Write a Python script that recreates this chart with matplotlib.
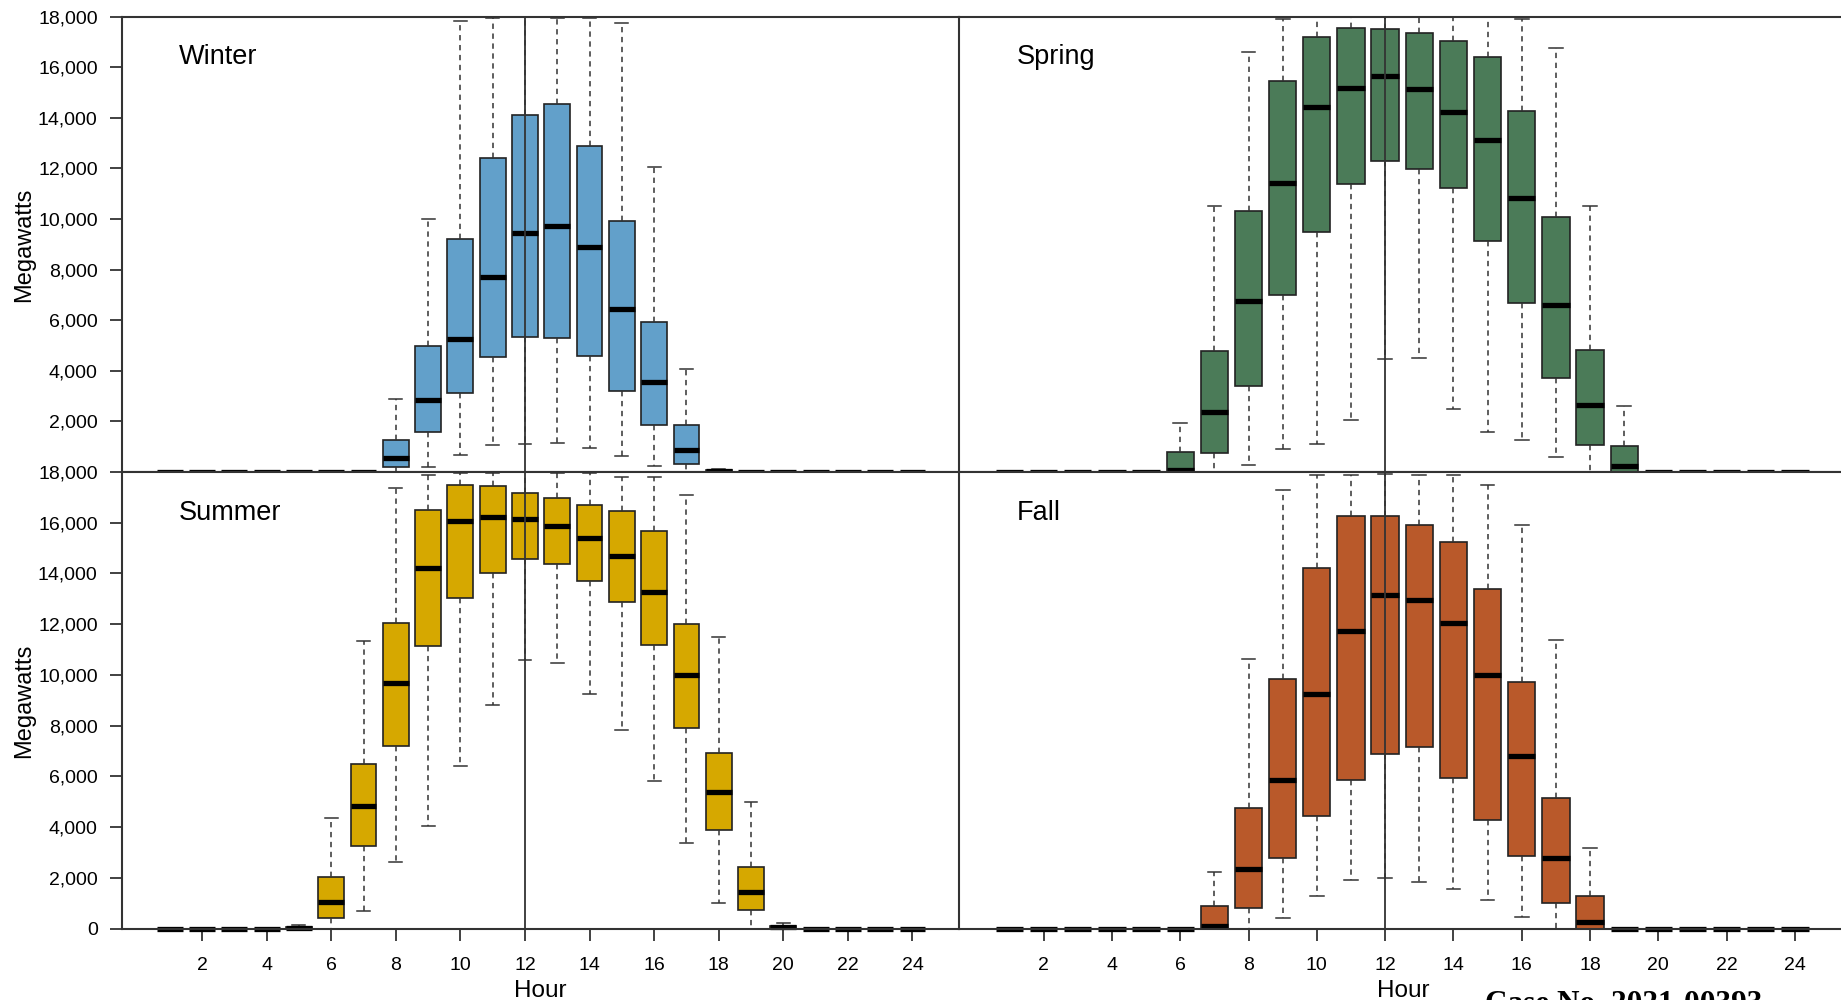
import matplotlib.pyplot as plt
from matplotlib.ticker import FuncFormatter

plt.rcParams['font.family'] = ['Liberation Sans', 'DejaVu Sans']

# hours of the day
hours = list(range(1, 25))

# hourly solar output, thousands of MW: q1, median, q3, whisker low, whisker high
winter_q1 = [0, 0, 0, 0, 0, 0, 0, 0.18, 1.60, 3.13, 4.54, 5.34, 5.29, 4.58, 3.20, 1.86, 0.32, 0, 0, 0, 0, 0, 0, 0]
winter_med = [0, 0, 0, 0, 0, 0, 0, 0.55, 2.83, 5.24, 7.72, 9.46, 9.74, 8.90, 6.45, 3.57, 0.88, 0.02, 0, 0, 0, 0, 0, 0]
winter_q3 = [0, 0, 0, 0, 0, 0, 0, 1.27, 4.97, 9.21, 12.43, 14.13, 14.53, 12.88, 9.93, 5.94, 1.86, 0.06, 0, 0, 0, 0, 0, 0]
winter_lo = [0, 0, 0, 0, 0, 0, 0, 0, 0.20, 0.66, 1.07, 1.12, 1.14, 0.96, 0.65, 0.23, 0, 0, 0, 0, 0, 0, 0, 0]
winter_hi = [0, 0, 0, 0, 0, 0, 0, 2.90, 10.0, 17.84, 17.95, 18.0, 17.95, 17.95, 17.76, 12.06, 4.08, 0.10, 0, 0, 0, 0, 0, 0]

spring_q1 = [0, 0, 0, 0, 0, 0, 0.76, 3.39, 7.01, 9.49, 11.38, 12.28, 11.97, 11.22, 9.12, 6.68, 3.70, 1.05, 0, 0, 0, 0, 0, 0]
spring_med = [0, 0, 0, 0, 0, 0.08, 2.37, 6.78, 11.41, 14.42, 15.20, 15.66, 15.13, 14.24, 13.12, 10.84, 6.59, 2.63, 0.24, 0, 0, 0, 0, 0]
spring_q3 = [0, 0, 0, 0, 0, 0.79, 4.80, 10.32, 15.47, 17.21, 17.54, 17.50, 17.34, 17.05, 16.42, 14.29, 10.10, 4.84, 1.03, 0, 0, 0, 0, 0]
spring_lo = [0, 0, 0, 0, 0, 0, 0, 0.26, 0.90, 1.09, 2.05, 4.47, 4.51, 2.50, 1.58, 1.25, 0.60, 0, 0, 0, 0, 0, 0, 0]
spring_hi = [0, 0, 0, 0, 0, 1.95, 10.5, 16.6, 17.9, 18.0, 18.0, 18.0, 18.0, 18.0, 18.0, 17.9, 16.75, 10.5, 2.6, 0, 0, 0, 0, 0]

summer_q1 = [0, 0, 0, 0, 0, 0.44, 3.24, 7.20, 11.13, 13.05, 14.00, 14.56, 14.36, 13.72, 12.86, 11.20, 7.91, 3.89, 0.74, 0, 0, 0, 0, 0]
summer_med = [0, 0, 0, 0, 0.03, 1.05, 4.83, 9.70, 14.22, 16.08, 16.22, 16.14, 15.88, 15.38, 14.67, 13.28, 9.99, 5.37, 1.43, 0.05, 0, 0, 0, 0]
summer_q3 = [0, 0, 0, 0, 0.06, 2.03, 6.51, 12.04, 16.50, 17.48, 17.46, 17.16, 16.97, 16.68, 16.47, 15.69, 11.99, 6.94, 2.45, 0.10, 0, 0, 0, 0]
summer_lo = [0, 0, 0, 0, 0, 0, 0.68, 2.64, 4.04, 6.43, 8.82, 10.60, 10.47, 9.24, 7.82, 5.83, 3.38, 1.02, 0, 0, 0, 0, 0, 0]
summer_hi = [0, 0, 0, 0, 0.14, 4.38, 11.35, 17.35, 17.9, 17.95, 17.95, 18.0, 17.95, 17.95, 17.8, 17.8, 17.08, 11.48, 5.0, 0.23, 0, 0, 0, 0]

fall_q1 = [0, 0, 0, 0, 0, 0, 0, 0.82, 2.77, 4.45, 5.87, 6.89, 7.18, 5.95, 4.28, 2.85, 1.02, 0, 0, 0, 0, 0, 0, 0]
fall_med = [0, 0, 0, 0, 0, 0, 0.11, 2.37, 5.87, 9.25, 11.73, 13.17, 12.94, 12.04, 10.00, 6.80, 2.77, 0.27, 0, 0, 0, 0, 0, 0]
fall_q3 = [0, 0, 0, 0, 0, 0, 0.88, 4.76, 9.86, 14.22, 16.27, 16.25, 15.90, 15.23, 13.40, 9.72, 5.14, 1.29, 0, 0, 0, 0, 0, 0]
fall_lo = [0, 0, 0, 0, 0, 0, 0, 0, 0.42, 1.28, 1.93, 2.01, 1.84, 1.58, 1.14, 0.46, 0, 0, 0, 0, 0, 0, 0, 0]
fall_hi = [0, 0, 0, 0, 0, 0, 2.24, 10.64, 17.29, 17.88, 17.9, 17.92, 17.9, 17.87, 17.48, 15.9, 11.38, 3.19, 0, 0, 0, 0, 0, 0]

W, H = 1841, 1000
fig = plt.figure(figsize=(W / 100, H / 100), dpi=100)

def px_rect(x0, y0, x1, y1):
    return [x0 / W, 1 - y1 / H, (x1 - x0) / W, (y1 - y0) / H]

line_col = '#333333'

panels = [
    ('Winter', winter_q1, winter_med, winter_q3, winter_lo, winter_hi, '#62a0ca', px_rect(122, 16.7, 959.3, 472), 'tl'),
    ('Spring', spring_q1, spring_med, spring_q3, spring_lo, spring_hi, '#4b7b58', px_rect(959.3, 16.7, 1841, 472), 'tr'),
    ('Summer', summer_q1, summer_med, summer_q3, summer_lo, summer_hi, '#d6a800', px_rect(122, 472, 959.3, 928.7), 'bl'),
    ('Fall', fall_q1, fall_med, fall_q3, fall_lo, fall_hi, '#b9592a', px_rect(959.3, 472, 1841, 928.7), 'br'),
]

for name, q1, med, q3, lo, hi, color, rect, where in panels:
    ax = fig.add_axes(rect)
    stats = []
    for i in range(len(hours)):
        stats.append({'q1': q1[i] * 1000, 'med': med[i] * 1000, 'q3': q3[i] * 1000,
                      'whislo': lo[i] * 1000, 'whishi': hi[i] * 1000, 'fliers': []})
    bp = ax.bxp(stats, positions=hours, widths=0.8, capwidths=0.4, patch_artist=True,
                showfliers=False, manage_ticks=False,
                boxprops=dict(facecolor=color, edgecolor='#222222', linewidth=1.2),
                medianprops=dict(color='black', linewidth=3.8, solid_capstyle='butt'),
                whiskerprops=dict(color=line_col, linewidth=1.1, linestyle=(0, (3.5, 3))),
                capprops=dict(color=line_col, linewidth=1.1))
    for m in bp['medians']:
        m.set_clip_on(False)
    ax.axvline(12, color=line_col, linewidth=1.3, zorder=5)

    ax.set_ylim(0, 18000)
    if where[1] == 'l':
        ax.set_xlim(-0.48, 25.45)
    else:
        ax.set_xlim(-0.47, 25.35)

    for s in ax.spines.values():
        s.set_color(line_col)
        s.set_linewidth(1.5)
    ax.spines['right'].set_visible(False)

    if where[1] == 'l':
        if where[0] == 't':
            ax.set_yticks(range(2000, 18001, 2000))
        else:
            ax.set_yticks(range(0, 18001, 2000))
        ax.yaxis.set_major_formatter(FuncFormatter(lambda v, p: f'{int(v):,}'))
    else:
        ax.set_yticks([])
    if where[0] == 'b':
        ax.set_xticks(range(2, 25, 2))
    else:
        ax.set_xticks([])
    ax.tick_params(axis='both', labelsize=14, length=8.5, width=1.3, color=line_col)
    ax.tick_params(axis='y', pad=9)
    ax.tick_params(axis='x', pad=12)

    lx = 178.5 if where[1] == 'l' else 1016.7
    ly = 56.5 if where[0] == 't' else 513
    fig.text(lx / W, 1 - ly / H, name, fontsize=19.5, ha='left', va='center')

fig.text(24 / W, 1 - 245 / H, 'Megawatts', fontsize=17, rotation=90, ha='center', va='center')
fig.text(24 / W, 1 - 701 / H, 'Megawatts', fontsize=17, rotation=90, ha='center', va='center')
fig.text(540 / W, 1 - 991 / H, 'Hour', fontsize=17.5, ha='center', va='center')
fig.text(1403 / W, 1 - 991 / H, 'Hour', fontsize=17.5, ha='center', va='center')
fig.text(1485 / W, 1 - 990 / H, 'Case No. 2021-00393', fontsize=22.5, fontweight='bold',
         family='Liberation Serif', ha='left', va='top')

plt.savefig('out.png', dpi=100)
